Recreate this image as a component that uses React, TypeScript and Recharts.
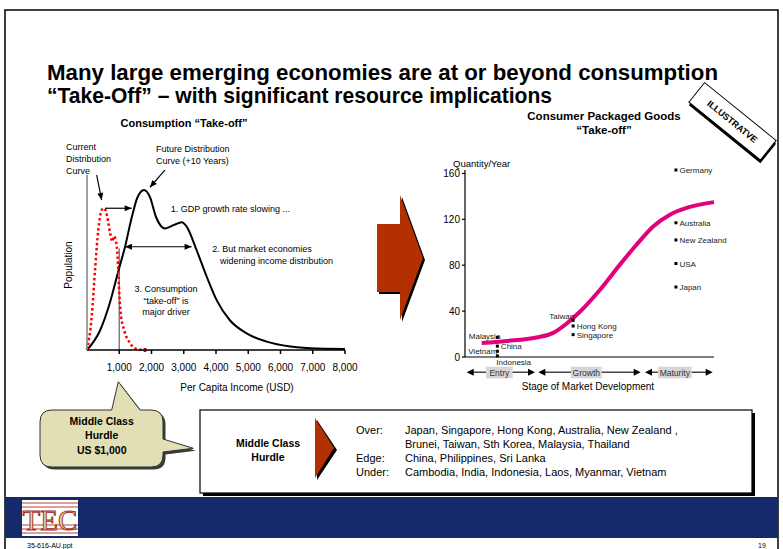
import React from 'react'
import {
  LineChart, Line, XAxis, YAxis, ReferenceLine, ReferenceDot,
  ComposedChart, Scatter,
} from 'recharts'

const FONT = '"Liberation Sans", Arial, Helvetica, sans-serif'

// ── left chart: population by per-capita income (USD) ───────────────────────
const futureIncome = [0, 400, 710, 970, 1180, 1390, 1560, 1770, 1950, 2140, 2420, 2700, 2940, 3090, 3400, 3710, 4020, 4430, 4950, 5570, 6300, 6920, 8000]
const futurePop = [0, 11, 27, 45, 59, 76, 87, 91.5, 87.5, 76, 69.5, 71.5, 73, 70.5, 57, 42, 28.5, 17, 9.5, 4.8, 2, 1, 0.6]
const currentIncome = [0, 145, 250, 350, 455, 530, 630, 715, 785, 835, 900, 950, 990, 1045, 1150, 1330, 1560, 1800]
const currentPop = [0, 19, 46, 68.5, 80, 81, 76, 67, 62, 65, 62, 53, 36, 21, 11.5, 4, 0.5, 0]
const incomeTicks = [1000, 2000, 3000, 4000, 5000, 6000, 7000, 8000]

// ── right chart: consumer packaged goods take-off ────────────────────────────
const curveStage = [0.47, 1.17, 2.01, 2.48, 2.86, 3.23, 3.79, 4.35, 4.82, 5.29, 5.76, 6.23, 6.7, 7.0]
const curveQty = [12.3, 14, 17, 21, 29.2, 39.4, 58.4, 80.3, 97.8, 113.8, 124.1, 130, 133.5, 135]
const countries = ['Germany', 'Australia', 'New Zealand', 'USA', 'Japan', 'Taiwan', 'Hong Kong', 'Singapore', 'Malaysia', 'China', 'Vietnam', 'Indonesia']
const countryStage = [5.93, 5.93, 5.93, 5.93, 5.93, 3.04, 3.04, 3.04, 0.91, 0.91, 0.91, 0.91]
const countryQty = [163, 117, 102, 81.5, 61, 32, 27, 19.5, 17, 9.5, 5, 1]
const qtyTicks = [0, 40, 80, 120, 160]
const stageTicks = [0, 2, 5, 7]
const stageNames = ['Entry', 'Growth', 'Maturity']

const futureData = futureIncome.map((x, i) => ({ x, y: futurePop[i] }))
const currentData = currentIncome.map((x, i) => ({ x, y: currentPop[i] }))
const curveData = curveStage.map((x, i) => ({ x, y: curveQty[i] }))
const countryData = countries.map((name, i) => ({ name, x: countryStage[i], y: countryQty[i] }))

// label placement for country markers: [anchor, dx, dy]
const labelPlace: Record<string, [string, number, number]> = {
  Taiwan: ['end', 1, -1],
  Malaysia: ['end', 3, 2],
  Vietnam: ['end', 0, 3],
  Indonesia: ['start', -1, 9],
}

function head(tx: number, ty: number, fx: number, fy: number, len = 7, w = 3) {
  const d = Math.hypot(tx - fx, ty - fy) || 1
  const ux = (tx - fx) / d, uy = (ty - fy) / d
  const bx = tx - ux * len, by = ty - uy * len
  return `${tx},${ty} ${bx - uy * w},${by + ux * w} ${bx + uy * w},${by - ux * w}`
}

function arrowShape(both: boolean) {
  return (p: any) => {
    const { x1, y1, x2, y2 } = p
    if (x1 == null) return <g />
    return (
      <g>
        <line x1={x1} y1={y1} x2={x2} y2={y2} stroke="#000" strokeWidth={1.2} />
        <polygon points={head(x2, y2, x1, y1)} fill="#000" />
        {both && <polygon points={head(x1, y1, x2, y2)} fill="#000" />}
      </g>
    )
  }
}

function CountryMark(p: any) {
  const { cx, cy, payload } = p
  const [anchor, dx, dy] = labelPlace[payload.name] ?? ['start', 3.5, 3]
  return (
    <g>
      <rect x={cx - 1.5} y={cy - 1.5} width={3} height={3} fill="#000" />
      <text x={cx + dx} y={cy + dy} fontSize={8} fill="#222" textAnchor={anchor as any} fontFamily={FONT}>
        {payload.name}
      </text>
    </g>
  )
}

function StageBar() {
  // segments below the right chart, in page pixels
  const segs = [[466.7, 535, 499.3, 26.7], [538.3, 640.7, 586.3, 30.7], [645, 712.7, 674.8, 33.7]]
  const y = 372.3
  return (
    <g>
      {segs.map(([a, b, c, w], i) => (
        <g key={i}>
          <line x1={a + 6} y1={y} x2={b - 6} y2={y} stroke="#444" strokeWidth={1.5} />
          <polygon points={head(a, y, b, y, 7, 3.5)} fill="#000" />
          <polygon points={head(b, y, a, y, 7, 3.5)} fill="#000" />
          <rect x={c - w / 2} y={366.7} width={w} height={11.6} fill="#d6d6d6" />
          <text x={c} y={375.6} fontSize={8.5} textAnchor="middle" fill="#333" fontFamily={FONT}>{stageNames[i]}</text>
        </g>
      ))}
    </g>
  )
}

const txt = { fontFamily: FONT, fill: '#000' }

export default function App() {
  return (
    <div style={{ position: 'absolute', left: 0, top: 0, width: 783, height: 549, background: '#fff', overflow: 'hidden', fontFamily: FONT }}>
      <svg width={783} height={549} style={{ position: 'absolute', left: 0, top: 0 }}>
        {/* slide frame + footer band */}
        <rect x={5} y={10} width={773} height={545} fill="none" stroke="#000" strokeWidth={1.5} />
        <rect x={5} y={497} width={773} height={41} fill="#152a6c" />
        <g>
          <rect x={22} y={500} width={56} height={36} fill="#fff" />
          {[503, 507, 525, 529, 533].map((yy) => (
            <line key={yy} x1={22} x2={78} y1={yy} y2={yy} stroke="#b2443c" strokeWidth={1} />
          ))}
          <text x={50} y={530} fontSize={29} textAnchor="middle" fontFamily='"Liberation Serif", "DejaVu Serif", serif'
            fill="#e9dca6" stroke="#a3342c" strokeWidth={1}>TEC</text>
        </g>
        <text x={27} y={548} fontSize={7} {...txt}>35-616-AU.ppt</text>
        <text x={758} y={548} fontSize={7} {...txt}>19</text>

        {/* title */}
        <text x={47} y={80} fontSize={22} fontWeight="bold" textLength={671} lengthAdjust="spacingAndGlyphs" {...txt}>
          Many large emerging economies are at or beyond consumption
        </text>
        <text x={47} y={102.5} fontSize={22} fontWeight="bold" textLength={505} lengthAdjust="spacingAndGlyphs" {...txt}>
          “Take-Off” – with significant resource implications
        </text>

        {/* illustrative stamp */}
        <g transform="translate(732.5 121.3) rotate(39)">
          <rect x={-44} y={-10} width={92} height={25} fill="#000" />
          <rect x={-46} y={-12.5} width={92} height={25} fill="#fff" stroke="#000" strokeWidth={1} />
          <text x={0} y={3.5} fontSize={9} fontWeight="bold" textAnchor="middle" {...txt}>ILLUSTRATVE</text>
        </g>

        {/* left chart texts */}
        <text x={184} y={127} fontSize={11} fontWeight="bold" textAnchor="middle" {...txt}>Consumption “Take-off”</text>
        <g fontSize={9} {...txt}>
          <text x={66} y={150}>Current</text>
          <text x={66} y={161.5}>Distribution</text>
          <text x={66} y={174}>Curve</text>
          <text x={156} y={151.5}>Future Distribution</text>
          <text x={156} y={164}>Curve (+10 Years)</text>
          <text x={170.7} y={212}>1. GDP growth rate slowing ...</text>
          <text x={212.3} y={251.5}>2. But market economies</text>
          <text x={220} y={264}>widening income distribution</text>
          <text x={166} y={292} textAnchor="middle">3. Consumption</text>
          <text x={166} y={303.5} textAnchor="middle">“take-off” is</text>
          <text x={166} y={315} textAnchor="middle">major driver</text>
        </g>
        <text x={72} y={265} fontSize={10} textAnchor="middle" transform="rotate(-90 72 265)" {...txt}>Population</text>
        <text x={237} y={390.5} fontSize={10} textAnchor="middle" {...txt}>Per Capita Income (USD)</text>

        {/* middle arrow */}
        <polygon points="379,226 402,226 402,197 425,260 402,322 402,294 379,294" fill="#000" />
        <polygon points="377,224 400,224 400,195 423,258 400,320 400,292 377,292" fill="#b33000" />

        {/* right chart texts */}
        <text x={604} y={120} fontSize={11.5} fontWeight="bold" textAnchor="middle" {...txt}>Consumer Packaged Goods</text>
        <text x={604} y={134} fontSize={11.5} fontWeight="bold" textAnchor="middle" {...txt}>“Take-off”</text>
        <text x={453} y={167} fontSize={9.5} {...txt}>Quantity/Year</text>
        <StageBar />
        <text x={588} y={389.5} fontSize={10} textAnchor="middle" {...txt}>Stage of Market Development</text>

        {/* hurdle callout */}
        <g>
          <path transform="translate(2.5 2.5)" fill="#3a3a3a"
            d="M52 410 L111.7 410 L118.3 381.7 L140 410 L151 410 Q163 410 163 422 L163 439 L193.3 448.3 L163 452 L163 455 Q163 467 151 467 L52 467 Q40 467 40 455 L40 422 Q40 410 52 410 Z" />
          <path fill="#e2dfb5" stroke="#333" strokeWidth={1}
            d="M52 410 L111.7 410 L118.3 381.7 L140 410 L151 410 Q163 410 163 422 L163 439 L193.3 448.3 L163 452 L163 455 Q163 467 151 467 L52 467 Q40 467 40 455 L40 422 Q40 410 52 410 Z" />
          <g fontSize={10.5} fontWeight="bold" textAnchor="middle" {...txt}>
            <text x={101.7} y={424.5}>Middle Class</text>
            <text x={101.7} y={439}>Hurdle</text>
            <text x={101.7} y={454}>US $1,000</text>
          </g>
        </g>

        {/* hurdle box */}
        <rect x={203} y={413} width={552} height={83} fill="#000" />
        <rect x={200} y={410} width={552} height={83} fill="#fff" stroke="#000" strokeWidth={1.2} />
        <g fontSize={10.5} fontWeight="bold" textAnchor="middle" {...txt}>
          <text x={268} y={447}>Middle Class</text>
          <text x={268} y={461}>Hurdle</text>
        </g>
        <polygon points="317,420 337,450 317,480" fill="#000" />
        <polygon points="315,418 334,448 315,478" fill="#b33000" />
        <g fontSize={11} {...txt}>
          <text x={356} y={434}>Over:</text>
          <text x={405} y={434}>Japan, Singapore, Hong Kong, Australia, New Zealand ,</text>
          <text x={405} y={448}>Brunei, Taiwan, Sth Korea, Malaysia, Thailand</text>
          <text x={356} y={462}>Edge:</text>
          <text x={405} y={462}>China, Philippines, Sri Lanka</text>
          <text x={356} y={476}>Under:</text>
          <text x={405} y={476}>Cambodia, India, Indonesia, Laos, Myanmar, Vietnam</text>
        </g>
      </svg>

      {/* left chart */}
      <div style={{ position: 'absolute', left: 60, top: 170 }}>
        <LineChart width={300} height={215} margin={{ top: 5, right: 15, bottom: 0, left: 0 }}>
          <XAxis type="number" dataKey="x" domain={[0, 8000]} ticks={incomeTicks} height={35}
            tickFormatter={(v: number) => v.toLocaleString('en-US')}
            tick={{ fontSize: 10, fill: '#000', fontFamily: FONT }} tickSize={4} tickMargin={10}
            axisLine={{ stroke: '#000', strokeWidth: 1.5 }} tickLine={{ stroke: '#000', strokeWidth: 1.5 }} />
          <YAxis type="number" domain={[0, 100]} width={27} tick={false} tickLine={false}
            axisLine={{ stroke: '#808080', strokeWidth: 1.5 }} />
          <ReferenceLine segment={[{ x: 1000, y: 0 }, { x: 1000, y: 58 }]} stroke="#808080" strokeWidth={1.5} ifOverflow="visible" />
          <Line data={futureData} dataKey="y" type="monotone" stroke="#000" strokeWidth={2} dot={false} isAnimationActive={false} />
          <Line data={currentData} dataKey="y" type="monotone" stroke="#ff0000" strokeWidth={2.5} strokeDasharray="2.5 2.5" dot={false} isAnimationActive={false} />
          <ReferenceDot x={currentIncome[currentIncome.length - 1]} y={currentPop[currentPop.length - 1]} r={2} fill="#600" stroke="none" ifOverflow="visible" />
          <ReferenceLine segment={[{ x: 300, y: 100 }, { x: 455, y: 85.7 }]} ifOverflow="visible" shape={arrowShape(false)} />
          <ReferenceLine segment={[{ x: 2419, y: 102.9 }, { x: 1953, y: 93 }]} ifOverflow="visible" shape={arrowShape(false)} />
          <ReferenceLine segment={[{ x: 560, y: 81 }, { x: 1385, y: 81 }]} ifOverflow="visible" shape={arrowShape(false)} />
          <ReferenceLine segment={[{ x: 1178, y: 59 }, { x: 3245, y: 59 }]} ifOverflow="visible" shape={arrowShape(true)} />
        </LineChart>
      </div>

      {/* right chart */}
      <div style={{ position: 'absolute', left: 420, top: 160 }}>
        <ComposedChart width={350} height={235} margin={{ top: 10, right: 56, bottom: 0, left: 0 }}>
          <XAxis type="number" dataKey="x" domain={[0, 7]} ticks={stageTicks} height={38} tick={false}
            tickSize={5} axisLine={{ stroke: '#000', strokeWidth: 1.2 }} tickLine={{ stroke: '#000', strokeWidth: 1.2 }} />
          <YAxis type="number" dataKey="y" domain={[0, 163]} ticks={qtyTicks} width={45} tickSize={3} tickMargin={2}
            tick={{ fontSize: 10, fill: '#000', fontFamily: FONT }}
            axisLine={{ stroke: '#000', strokeWidth: 1.2 }} tickLine={{ stroke: '#000', strokeWidth: 1.2 }} />
          <Line data={curveData} dataKey="y" type="monotone" stroke="#e3007d" strokeWidth={4} dot={false} isAnimationActive={false} />
          <Scatter data={countryData} dataKey="y" shape={<CountryMark />} isAnimationActive={false} />
        </ComposedChart>
      </div>
    </div>
  )
}
